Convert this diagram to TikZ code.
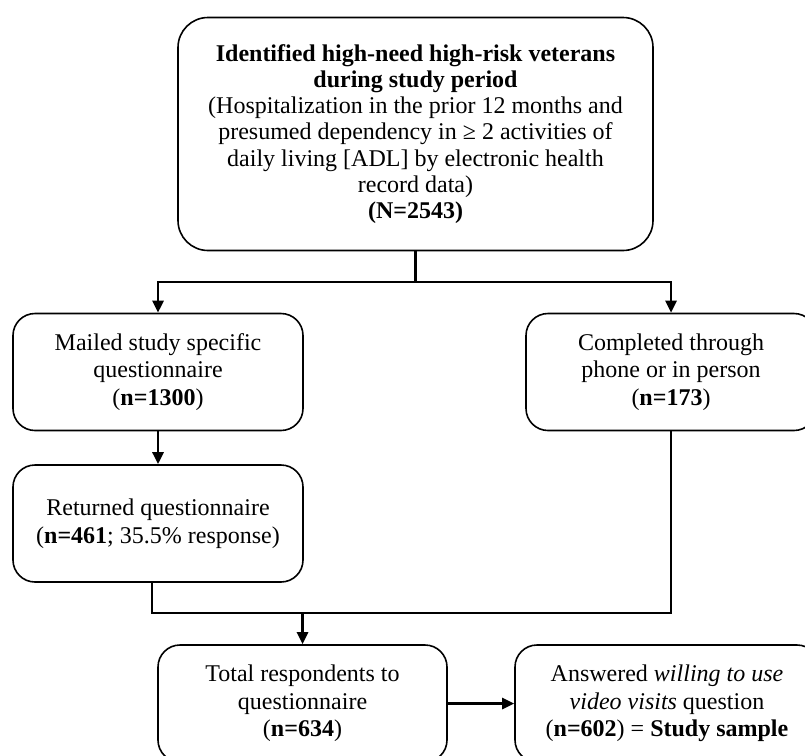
\documentclass[tikz,border=0pt]{standalone}
\usepackage{fontspec}
\setmainfont{Liberation Serif}
\usetikzlibrary{arrows.meta}

\begin{document}
\begin{tikzpicture}[x=1pt, y=-1pt,
    every node/.style={font=\fontsize{24}{27.5}\selectfont, align=center},
    stage/.style={draw, line width=1.6pt, rounded corners=22pt,
      minimum width=290pt, minimum height=117pt, inner sep=0pt},
    flow/.style={line width=2.6pt, -{Triangle[length=12pt, width=11pt]}},
    link/.style={line width=2.6pt}]
  \useasboundingbox (0,0) rectangle (805,755);
  \clip (0,0) rectangle (805,755);
  %% *** Identified ***
  \node [stage, minimum width=475pt, minimum height=233pt, rounded corners=30pt,
    font=\fontsize{24}{26.2}\selectfont]
    (identified) at (415.5,134)
    {\textbf{Identified high-need high-risk veterans}\\
     \textbf{during study period}\\
     (Hospitalization in the prior 12 months and\\
     presumed dependency in ≥ 2 activities of\\
     daily living [ADL] by electronic health\\
     record data)\\
     \textbf{(N=2543)}};
  %% *** Mailed ***
  \node [stage] (mailed) at (158,372)
    {Mailed study specific\\ questionnaire\\ (\textbf{n=1300})};
  \node [stage] (returned) at (158,523.5)
    {Returned questionnaire\\ (\textbf{n=461}; 35.5\% response)};
  %% *** Phone ***
  \node [stage] (completed) at (671,372)
    {Completed through\\ phone or in person\\ (\textbf{n=173})};
  %% *** Sample ***
  \node [stage, minimum width=289pt] (total) at (302.5,703.5)
    {Total respondents to\\ questionnaire\\ (\textbf{n=634})};
  \node [stage, minimum width=304pt] (answered) at (667,703.5)
    {Answered \textit{willing to use}\\ \textit{video visits} question\\
     (\textbf{n=602}) = \textbf{Study sample}};
  %% *** Connectors ***
  \coordinate (split) at (415.5,282);
  \coordinate (merge) at (302.5,613);
  \draw [link] (identified.south) -- (split);
  \draw [flow] (split) -| (mailed.north);
  \draw [flow] (split) -| (completed.north);
  \draw [flow] (mailed) -- (returned);
  \draw [link] ([xshift=-6pt]returned.south) |- (merge) -| (completed.south);
  \draw [flow] (merge) -- (total.north);
  \draw [flow] (total) -- (answered);
\end{tikzpicture}
\end{document}
